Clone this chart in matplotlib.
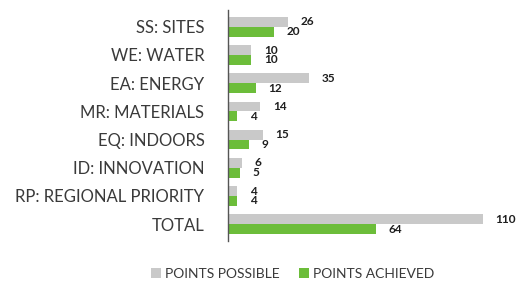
import matplotlib.pyplot as plt
import numpy as np

# categories and values
categories = ["SS: SITES", "WE: WATER", "EA: ENERGY", "MR: MATERIALS",
              "EQ: INDOORS", "ID: INNOVATION", "RP: REGIONAL PRIORITY", "TOTAL"]
possible = [26, 10, 35, 14, 15, 6, 4, 110]
achieved = [20, 10, 12, 4, 9, 5, 4, 64]

gray = "#c9c9c9"
green = "#6cbd3a"
txt = "#3a3a3a"

plt.rcParams['font.family'] = ['Lato', 'DejaVu Sans']

fig = plt.figure(figsize=(5.28, 2.82), dpi=100)
ax = fig.add_axes([0.432, 0.145, 0.526, 0.82])

y = np.arange(len(categories))
h = 0.35
b1 = ax.barh(y - h / 2, possible, height=h, color=gray, label="POINTS POSSIBLE")
b2 = ax.barh(y + h / 2, achieved, height=h, color=green, label="POINTS ACHIEVED")

# value labels
for bars, vals in [(b1, possible), (b2, achieved)]:
    for r, v in zip(bars, vals):
        ax.annotate(str(v), (r.get_width(), r.get_y() + r.get_height() / 2),
                    xytext=(9, 0), textcoords="offset points",
                    ha="left", va="center", fontsize=8.5, fontweight="bold",
                    color="#1e1e1e")

ax.set_xlim(0, 120)
ax.set_ylim(7.6, -0.6)
ax.set_yticks(y)
ax.set_yticklabels(categories, fontsize=12, color=txt)
ax.tick_params(axis="y", length=0, pad=17)
ax.set_xticks([])
for s in ["top", "right", "bottom"]:
    ax.spines[s].set_visible(False)
ax.spines["left"].set_color("#555555")
ax.spines["left"].set_linewidth(1)

fig.legend(handles=[b1, b2], loc="center", bbox_to_anchor=(0.555, 0.03),
           ncol=2, frameon=False, fontsize=10, handlelength=0.7,
           handleheight=0.7, handletextpad=0.3, columnspacing=1.4,
           labelcolor=txt)

fig.savefig("out.png", dpi=100)
